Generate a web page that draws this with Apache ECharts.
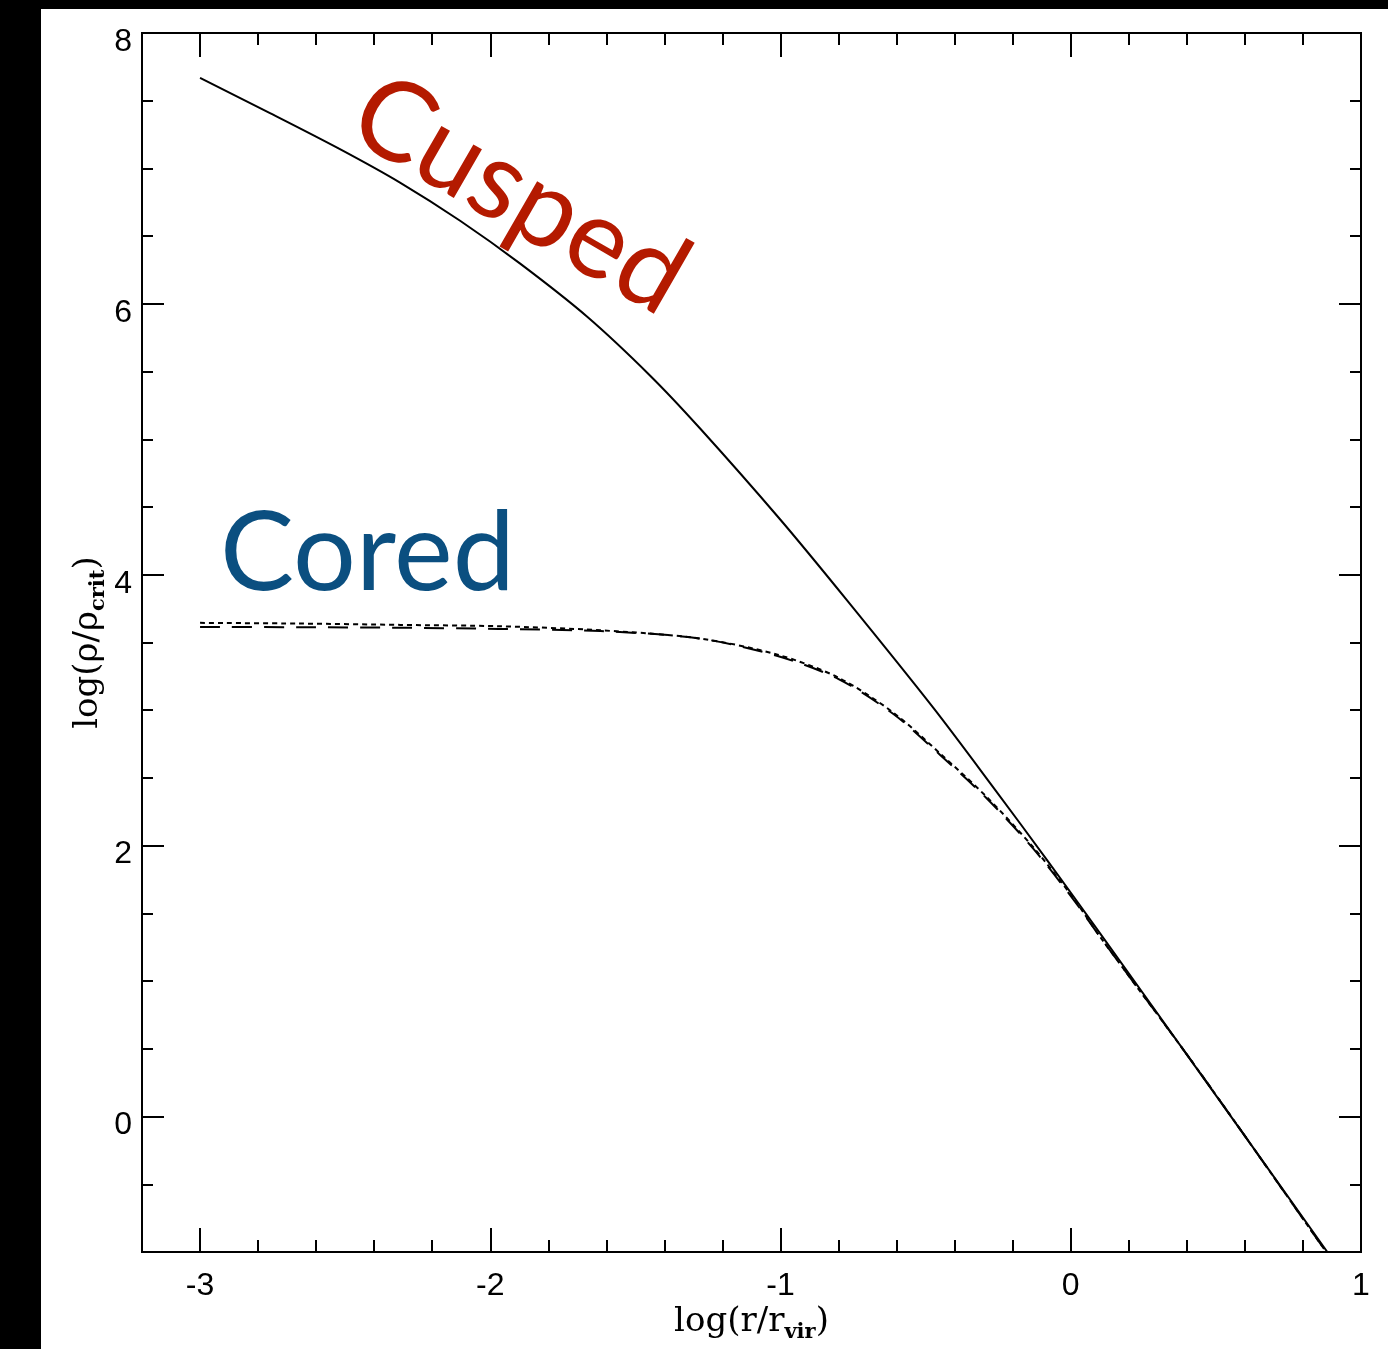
<!DOCTYPE html>
<html>
<head>
<meta charset="utf-8">
<script src="https://cdn.jsdelivr.net/npm/echarts@6/dist/echarts.min.js"></script>
<style>
  html, body { margin: 0; padding: 0; background: #fff; }
  #chart { width: 1388px; height: 1349px; }
</style>
</head>
<body>
<div id="chart"></div>
<script>
// tick positions
const xMajorTicks = [-3, -2, -1, 0, 1]
const xMinorTicks = [-2.8, -2.6, -2.4, -2.2, -1.8, -1.6, -1.4, -1.2, -0.8, -0.6, -0.4, -0.2, 0.2, 0.4, 0.6, 0.8]
const yMajorTicks = [0, 2, 4, 6, 8]
const yMinorTicks = [-1, -0.5, 0.5, 1, 1.5, 2.5, 3, 3.5, 4.5, 5, 5.5, 6.5, 7, 7.5]

// cusped profile (solid)
const cuspX = [-3.0, -2.759, -2.518, -2.311, -2.104, -1.897, -1.666, -1.449, -1.277, -1.001, -0.770, -0.474, -0.267, -0.081, 0.101, 0.446, 0.884]
const cuspY = [7.668, 7.409, 7.143, 6.896, 6.614, 6.297, 5.905, 5.47, 5.08, 4.408, 3.809, 3.019, 2.431, 1.892, 1.353, 0.319, -1.0]

// cored profiles (dotted and dashed)
const coreX = [-3.0, -2.66, -2.31, -1.97, -1.62, -1.28, -1.01, -0.80, -0.61, -0.45, -0.29, -0.13, 0.01, 0.10, 0.45, 0.88]
const coreDotY = [3.645, 3.64, 3.63, 3.62, 3.59, 3.53, 3.41, 3.24, 2.98, 2.68, 2.36, 1.99, 1.61, 1.33, 0.31, -1.0]
const coreDashY = [3.615, 3.613, 3.609, 3.60, 3.584, 3.53, 3.40, 3.23, 2.97, 2.67, 2.35, 1.98, 1.60, 1.33, 0.31, -1.0]

const pairs = (xs, ys) => xs.map((x, i) => [x, ys[i]])

function tickAxis(position, min, max, ticks, length) {
  return {
    type: 'value',
    position,
    min,
    max,
    axisLine: { show: true, onZero: false, lineStyle: { color: '#000', width: 2 } },
    axisTick: { show: true, inside: true, length, customValues: ticks, lineStyle: { color: '#000', width: 2 } },
    axisLabel: { show: false },
    splitLine: { show: false },
  }
}

const labelFont = { color: '#000', fontSize: 32, fontFamily: 'Liberation Sans' }
const nameFont = {
  color: '#000',
  fontSize: 34,
  fontFamily: 'DejaVu Serif',
  lineHeight: 42,
  rich: {
    sub: { fontSize: 21, fontWeight: 'bold', fontFamily: 'DejaVu Serif', lineHeight: 16, verticalAlign: 'bottom' },
  },
}

const xBottom = tickAxis('bottom', -3.2, 1, xMajorTicks, 24)
xBottom.axisLabel = { show: true, customValues: xMajorTicks, margin: 18, ...labelFont }
xBottom.name = 'log(r/r{sub|vir})'
xBottom.nameLocation = 'middle'
xBottom.nameGap = 49
xBottom.nameMoveOverlap = false
xBottom.nameTextStyle = nameFont

const yLeft = tickAxis('left', -1, 8, yMajorTicks, 22)
yLeft.axisLabel = { show: true, customValues: yMajorTicks, margin: 10, verticalAlign: 'top', lineHeight: 18, ...labelFont }
yLeft.name = 'log(ρ/ρ{sub|crit})'
yLeft.nameLocation = 'middle'
yLeft.nameGap = 33
yLeft.nameMoveOverlap = false
yLeft.nameTextStyle = nameFont

const option = {
  backgroundColor: '#fff',
  animation: false,
  grid: { left: 142, right: 27, top: 33, bottom: 97, outerBoundsMode: 'none' },
  xAxis: [
    xBottom,
    tickAxis('bottom', -3.2, 1, xMinorTicks, 12),
    tickAxis('top', -3.2, 1, xMajorTicks, 24),
    tickAxis('top', -3.2, 1, xMinorTicks, 12),
  ],
  yAxis: [
    yLeft,
    tickAxis('left', -1, 8, yMinorTicks, 11),
    tickAxis('right', -1, 8, yMajorTicks, 22),
    tickAxis('right', -1, 8, yMinorTicks, 11),
  ],
  graphic: [
    { type: 'rect', shape: { x: 0, y: 0, width: 41, height: 1349 }, style: { fill: '#000' } },
    { type: 'rect', shape: { x: 0, y: 0, width: 1388, height: 9 }, style: { fill: '#000' } },
    {
      type: 'text', x: 520, y: 195, rotation: -Math.PI / 6,
      style: { text: 'Cusped', font: '111px Lato', fill: '#B41A00', align: 'center', verticalAlign: 'middle' },
    },
    {
      type: 'text', x: 220, y: 554,
      style: { text: 'Cored', font: '111px Lato', fill: '#0B4F80', align: 'left', verticalAlign: 'middle' },
    },
  ],
  series: [
    {
      type: 'line',
      data: pairs(cuspX, cuspY),
      showSymbol: false,
      smooth: 0.3,
      lineStyle: { color: '#000', width: 2 },
    },
    {
      type: 'line',
      data: pairs(coreX, coreDotY),
      showSymbol: false,
      smooth: 0.3,
      lineStyle: { color: '#000', width: 2, type: [5, 4] },
    },
    {
      type: 'line',
      data: pairs(coreX, coreDashY),
      showSymbol: false,
      smooth: 0.3,
      lineStyle: { color: '#000', width: 2, type: [20, 12] },
    },
  ],
}

const chart = echarts.init(document.getElementById('chart'), null, { renderer: 'canvas' })
chart.setOption(option)
</script>
</body>
</html>
